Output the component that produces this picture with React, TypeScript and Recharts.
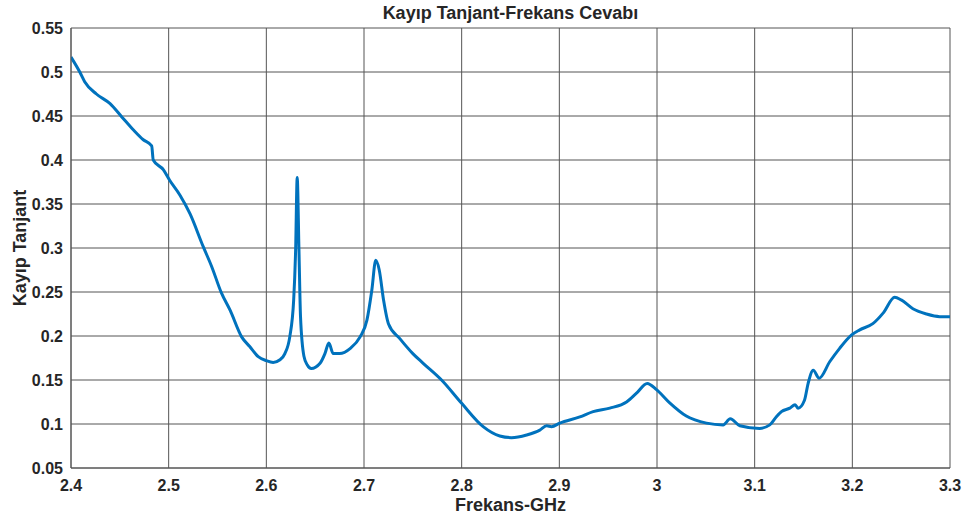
import { CartesianGrid, Line, LineChart, XAxis, YAxis } from 'recharts'

// values
const freqGHz = [
  2.4, 2.409, 2.414, 2.426, 2.44, 2.452, 2.464, 2.474, 2.4826, 2.4842, 2.4945,
  2.501, 2.5116, 2.5218, 2.5354, 2.544, 2.554, 2.563, 2.5747, 2.583, 2.5917,
  2.6, 2.607, 2.614, 2.619, 2.624, 2.628, 2.63, 2.6316, 2.6334, 2.635, 2.6385,
  2.642, 2.646, 2.655, 2.66, 2.664, 2.6685, 2.675, 2.686, 2.696, 2.703, 2.708,
  2.712, 2.7156, 2.72, 2.725, 2.7367, 2.75, 2.7606, 2.7794, 2.8, 2.822, 2.839,
  2.851, 2.8665, 2.88, 2.887, 2.892, 2.9005, 2.921, 2.9346, 2.9517, 2.9688,
  2.979, 2.99, 2.9995, 3.013, 3.03, 3.0507, 3.0677, 3.075, 3.0848, 3.105,
  3.1155, 3.122, 3.1274, 3.136, 3.1414, 3.1445, 3.151, 3.1547, 3.16, 3.166,
  3.177, 3.187, 3.199, 3.2076, 3.221, 3.2315, 3.2434, 3.25, 3.262, 3.2758,
  3.2895, 3.3,
]

const lossTangent = [
  0.517, 0.5, 0.489, 0.475, 0.464, 0.449, 0.434, 0.423, 0.416, 0.4, 0.389,
  0.377, 0.36, 0.339, 0.3015, 0.279, 0.249, 0.229, 0.199, 0.188, 0.1765,
  0.172, 0.17, 0.173, 0.18, 0.199, 0.241, 0.298, 0.38, 0.298, 0.222, 0.177,
  0.167, 0.163, 0.169, 0.18, 0.192, 0.18, 0.18, 0.186, 0.199, 0.218, 0.252,
  0.286, 0.275, 0.241, 0.214, 0.197, 0.18, 0.169, 0.15, 0.1235, 0.097, 0.0864,
  0.0845, 0.0875, 0.093, 0.098, 0.097, 0.101, 0.108, 0.114, 0.118, 0.125,
  0.135, 0.146, 0.139, 0.124, 0.109, 0.101, 0.099, 0.106, 0.098, 0.095,
  0.099, 0.108, 0.114, 0.118, 0.122, 0.118, 0.127, 0.146, 0.161, 0.152,
  0.171, 0.186, 0.201, 0.207, 0.214, 0.226, 0.244, 0.241, 0.231, 0.225,
  0.222, 0.222,
]

const xTicks = [2.4, 2.5, 2.6, 2.7, 2.8, 2.9, 3, 3.1, 3.2, 3.3]
const yTicks = [0.05, 0.1, 0.15, 0.2, 0.25, 0.3, 0.35, 0.4, 0.45, 0.5, 0.55]

const chartData = freqGHz.map((f, i) => ({ f, tan: lossTangent[i] }))

const textColor = '#262626'
const gridColor = '#555555'
const font = 'Arial, "Liberation Sans", sans-serif'

export default function App() {
  return (
    <div
      style={{
        position: 'absolute',
        left: 0,
        top: 0,
        width: 966,
        height: 521,
        background: '#fff',
        fontFamily: font,
      }}
    >
      <div
        style={{
          position: 'absolute',
          left: 71,
          width: 879,
          top: 3,
          textAlign: 'center',
          fontSize: 18,
          fontWeight: 'bold',
          color: textColor,
        }}
      >
        Kayıp Tanjant-Frekans Cevabı
      </div>
      <div
        style={{
          position: 'absolute',
          left: 20,
          top: 248,
          transform: 'translate(-50%, -50%) rotate(-90deg)',
          whiteSpace: 'nowrap',
          fontSize: 18,
          fontWeight: 'bold',
          color: textColor,
        }}
      >
        Kayıp Tanjant
      </div>
      <div
        style={{
          position: 'absolute',
          left: 71,
          width: 879,
          top: 495,
          textAlign: 'center',
          fontSize: 18,
          fontWeight: 'bold',
          color: textColor,
        }}
      >
        Frekans-GHz
      </div>

      <LineChart
        width={966}
        height={521}
        data={chartData}
        margin={{ top: 28, right: 16, bottom: 23, left: 0 }}
      >
        <CartesianGrid stroke={gridColor} strokeWidth={1} />
        <XAxis
          type="number"
          dataKey="f"
          domain={[2.4, 3.3]}
          ticks={xTicks}
          interval={0}
          allowDataOverflow
          height={30}
          tickLine={false}
          tickMargin={6}
          stroke={gridColor}
          tick={{ fontSize: 16, fontWeight: 'bold', fill: textColor, fontFamily: font }}
        />
        <YAxis
          type="number"
          domain={[0.05, 0.55]}
          ticks={yTicks}
          interval={0}
          allowDataOverflow
          width={71}
          tickLine={false}
          stroke={gridColor}
          tick={{ fontSize: 16, fontWeight: 'bold', fill: textColor, fontFamily: font }}
        />
        <Line
          type="monotone"
          dataKey="tan"
          stroke="#0072BD"
          strokeWidth={3}
          dot={false}
          isAnimationActive={false}
        />
      </LineChart>
    </div>
  )
}
